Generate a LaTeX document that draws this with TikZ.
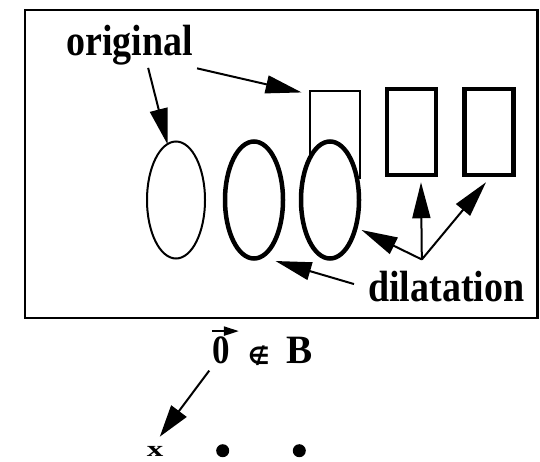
\documentclass[tikz,border=0pt]{standalone}
\usepackage{fontspec}
\setmainfont{Liberation Serif}
\newfontfamily\symfont{DejaVu Sans}
\usetikzlibrary{arrows.meta,shapes.geometric}
\newcommand{\tall}[1]{\scalebox{1}[1.15]{#1}}
\begin{document}
\begin{tikzpicture}[x=1pt,y=-1pt,
  bigarrow/.style={line width=2pt,-{Triangle[length=36pt,width=18pt]}},
  lbl/.style={font=\fontsize{38}{38}\selectfont\bfseries, inner sep=0pt, anchor=base west},
  mlbl/.style={font=\fontsize{35}{35}\selectfont\bfseries, inner sep=0pt, anchor=base west},
  thinell/.style={draw, fill=white, ellipse, line width=2pt, minimum width=58pt, minimum height=117pt, inner sep=0pt},
  thickell/.style={thinell, line width=4.5pt},
  thinbox/.style={draw, rectangle, line width=1.7pt, minimum width=50pt, minimum height=87pt, inner sep=0pt},
  thickbox/.style={thinbox, line width=4.5pt, minimum width=49pt, minimum height=86pt},
  dot/.style={circle, fill=black, inner sep=0pt, minimum size=13pt}]
\useasboundingbox (0,0) rectangle (540,461);
% frame
\node[draw, line width=2.6pt, minimum width=512.5pt, minimum height=308pt, inner sep=0pt, anchor=north west] (frame) at (23.8,8.7) {};
% shapes
\node[thinbox] (r1) at (335,134.5) {};
\node[thickbox] (r2) at (411.5,132) {};
\node[thickbox] (r3) at (489,132) {};
\node[thinell] (e1) at (176,200) {};
\node[thickell] (e2) at (254,200) {};
\node[thickell] (e3) at (330,200) {};
% labels
\node[lbl] (orig) at (66,55) {\tall{original}};
\node[lbl] (dil) at (368,301) {\tall{dilatation}};
% arrows from "original"
\draw[bigarrow] ([shift={(18.6,3)}]orig.south) -- ([shift={(-8.4,-55.5)}]e1.center);
\draw[bigarrow] ([shift={(4,3.5)}]orig.south east) -- ([shift={(-7.5,2.3)}]r1.north west);
% arrows from "dilatation"
\draw[bigarrow] ([shift={(-14,-2)}]dil.west) -- ([shift={(21.5,61)}]e2.center);
\coordinate (j) at ([shift={(-24.5,-11)}]dil.north);
\draw[bigarrow] (j) -- ([shift={(31.5,30)}]e3.center);
\draw[bigarrow] (j) -- ([shift={(9.5,5)}]r2.south);
\draw[bigarrow] (j) -- ([shift={(-3,5)}]r3.south);
% bottom
\node[mlbl] (zero) at (212,363.5) {\tall{0}};
\node[inner sep=0pt, font=\symfont\bfseries\fontsize{24}{24}\selectfont] (notin) at (259,356) {∉};
\node[mlbl] (B) at (286,363.5) {\scalebox{1.12}[1.15]{B}};
\draw[line width=2pt,-{Triangle[length=15pt,width=9pt]}] ([shift={(-9,-33)}]zero.south) -- ([shift={(18,-33)}]zero.south);
\node[inner sep=0pt] (x) at (155,451.5) {\scalebox{1.5}[1]{\fontsize{22}{22}\selectfont\bfseries x}};
\node[dot] (d1) at (222.7,450.7) {};
\node[dot] (d2) at (299.3,450.7) {};
\draw[line width=2pt,-{Triangle[length=32pt,width=19pt]}] ([shift={(-11.7,6.5)}]zero.south) -- ([shift={(4.8,-14.8)}]x.center);
\end{tikzpicture}
\end{document}
